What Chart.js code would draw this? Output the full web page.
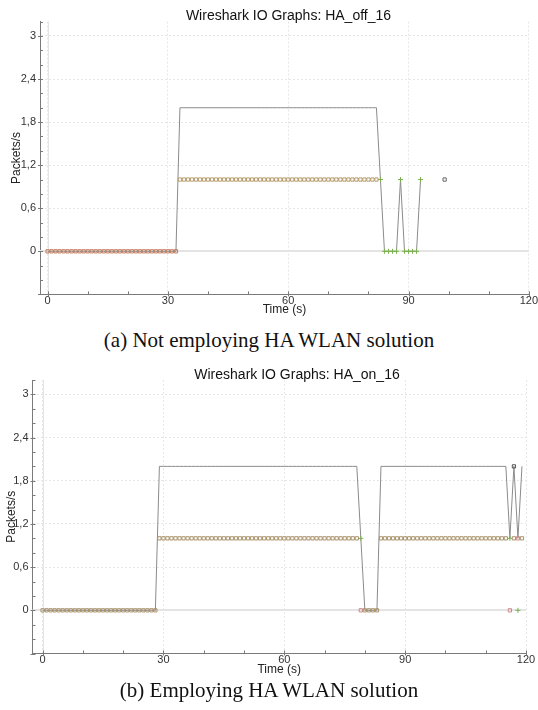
<!DOCTYPE html>
<html>
<head>
<meta charset="utf-8">
<script src="https://cdn.jsdelivr.net/npm/chart.js"></script>
<style>
  body { margin: 0; background: #fff; width: 538px; height: 710px; overflow: hidden; position: relative; }
  canvas { position: absolute; left: 0; }
  .title { position: absolute; left: 0; text-align: center; font: 14px/14px "Liberation Sans", Arial, sans-serif; color: #111; white-space: nowrap; }
  .caption { position: absolute; left: 0; width: 538px; text-align: center; font: 21px/24px "Liberation Serif", "Times New Roman", serif; color: #111; }
</style>
</head>
<body>
<canvas id="offChart" width="538" height="320" style="top:0"></canvas>
<canvas id="onChart" width="538" height="320" style="top:360px"></canvas>
<div class="title" style="top:8px;width:577px">Wireshark IO Graphs: HA_off_16</div>
<div class="caption" style="top:328px">(a) Not employing HA WLAN solution</div>
<div class="title" style="top:367px;width:594px">Wireshark IO Graphs: HA_on_16</div>
<div class="caption" style="top:678px">(b) Employing HA WLAN solution</div>
<script>
// ---- HA_off_16 : one value per second, starting at t = 0 ----
var offTotal = [
    0, 0, 0, 0, 0, 0, 0, 0, 0, 0,
    0, 0, 0, 0, 0, 0, 0, 0, 0, 0,
    0, 0, 0, 0, 0, 0, 0, 0, 0, 0,
    0, 0, 0, 2, 2, 2, 2, 2, 2, 2,
    2, 2, 2, 2, 2, 2, 2, 2, 2, 2,
    2, 2, 2, 2, 2, 2, 2, 2, 2, 2,
    2, 2, 2, 2, 2, 2, 2, 2, 2, 2,
    2, 2, 2, 2, 2, 2, 2, 2, 2, 2,
    2, 2, 2, 1, 0, 0, 0, 0, 1, 0,
    0, 0, 0, 1
];
var offSquares = [
    0, 0, 0, 0, 0, 0, 0, 0, 0, 0,
    0, 0, 0, 0, 0, 0, 0, 0, 0, 0,
    0, 0, 0, 0, 0, 0, 0, 0, 0, 0,
    0, 0, 0, 1, 1, 1, 1, 1, 1, 1,
    1, 1, 1, 1, 1, 1, 1, 1, 1, 1,
    1, 1, 1, 1, 1, 1, 1, 1, 1, 1,
    1, 1, 1, 1, 1, 1, 1, 1, 1, 1,
    1, 1, 1, 1, 1, 1, 1, 1, 1, 1,
    1, 1, 1
];
var offGreenT = [83, 84, 85, 86, 87, 88, 89, 90, 91, 92, 93];
var offGreenV = [1, 0, 0, 0, 0, 1, 0, 0, 0, 0, 1];
var offDarkT = [99];
var offDarkV = [1];

// ---- HA_on_16 ----
var onTotal = [
    0, 0, 0, 0, 0, 0, 0, 0, 0, 0,
    0, 0, 0, 0, 0, 0, 0, 0, 0, 0,
    0, 0, 0, 0, 0, 0, 0, 0, 0, 2,
    2, 2, 2, 2, 2, 2, 2, 2, 2, 2,
    2, 2, 2, 2, 2, 2, 2, 2, 2, 2,
    2, 2, 2, 2, 2, 2, 2, 2, 2, 2,
    2, 2, 2, 2, 2, 2, 2, 2, 2, 2,
    2, 2, 2, 2, 2, 2, 2, 2, 2, 1,
    0, 0, 0, 0, 2, 2, 2, 2, 2, 2,
    2, 2, 2, 2, 2, 2, 2, 2, 2, 2,
    2, 2, 2, 2, 2, 2, 2, 2, 2, 2,
    2, 2, 2, 2, 2, 2, 1, 2, 1, 2
];
var onSquares = [
    0, 0, 0, 0, 0, 0, 0, 0, 0, 0,
    0, 0, 0, 0, 0, 0, 0, 0, 0, 0,
    0, 0, 0, 0, 0, 0, 0, 0, 0, 1,
    1, 1, 1, 1, 1, 1, 1, 1, 1, 1,
    1, 1, 1, 1, 1, 1, 1, 1, 1, 1,
    1, 1, 1, 1, 1, 1, 1, 1, 1, 1,
    1, 1, 1, 1, 1, 1, 1, 1, 1, 1,
    1, 1, 1, 1, 1, 1, 1, 1, 1, null,
    0, 0, 0, 0, 1, 1, 1, 1, 1, 1,
    1, 1, 1, 1, 1, 1, 1, 1, 1, 1,
    1, 1, 1, 1, 1, 1, 1, 1, 1, 1,
    1, 1, 1, 1, 1, 1, null, 1, null, 1
];
var onRedT = [79, 116, 118];
var onRedV = [0, 0, 1];
var onGreenT = [79, 116, 118];
var onGreenV = [1, 1, 0];
var onDarkT = [117];
var onDarkV = [2];

var xTickStep = 10, xMajor = 30;
var yTickStep = 0.2, yMajor = 0.6;
var yMin = -0.6, yMax = 3.2, xMax = 120;

function points(start, values) {
    var out = [];
    values.forEach(function (v, i) {
        if (v !== null) out.push({ x: start + i, y: v });
    });
    return out;
}

function pairs(times, values) {
    return times.map(function (t, i) { return { x: t, y: values[i] }; });
}

function isMajor(v, step) {
    var r = v / step;
    return Math.abs(r - Math.round(r)) < 1e-6;
}

function commaLabel(v) {
    return String(Math.round(v * 10) / 10).replace('.', ',');
}

function squareSet(data, color) {
    return {
        data: data, showLine: false, pointStyle: 'rect', pointRadius: 2.3,
        pointBorderWidth: 1, pointBorderColor: color, pointBackgroundColor: 'rgba(255,255,255,0)'
    };
}

function crossSet(data, color) {
    return {
        data: data, showLine: false, pointStyle: 'cross', pointRadius: 2.5,
        pointBorderWidth: 1, pointBorderColor: color
    };
}

function lineSet(data) {
    return { data: data, showLine: true, borderColor: '#8b8b8b', borderWidth: 1, pointRadius: 0, tension: 0 };
}

// zero lines and the short inner tick marks of the wireshark plot
var wiresharkAxes = {
    id: 'wiresharkAxes',
    beforeDatasetsDraw: function (chart) {
        var ctx = chart.ctx, a = chart.chartArea, x = chart.scales.x, y = chart.scales.y;
        ctx.save();
        ctx.strokeStyle = '#e4e4e4';
        ctx.lineWidth = 2;
        var y0 = Math.round(y.getPixelForValue(0));
        ctx.beginPath(); ctx.moveTo(a.left, y0); ctx.lineTo(a.right, y0); ctx.stroke();
        ctx.lineWidth = 1;
        var x0 = Math.round(x.getPixelForValue(0)) + 0.5;
        ctx.beginPath(); ctx.moveTo(x0, a.top); ctx.lineTo(x0, a.bottom); ctx.stroke();
        ctx.restore();
    },
    afterDraw: function (chart) {
        var ctx = chart.ctx, a = chart.chartArea, x = chart.scales.x, y = chart.scales.y;
        ctx.save();
        ctx.strokeStyle = '#7a7a7a';
        ctx.lineWidth = 1;
        ctx.beginPath();
        x.ticks.forEach(function (t) {
            var px = Math.round(x.getPixelForValue(t.value)) + 0.5;
            var out = isMajor(t.value, xMajor) ? 2 : 0;
            ctx.moveTo(px, a.bottom + out); ctx.lineTo(px, a.bottom - 3);
        });
        y.ticks.forEach(function (t) {
            var py = Math.round(y.getPixelForValue(t.value)) + 0.5;
            var out = isMajor(t.value, yMajor) ? 2 : 0;
            ctx.moveTo(a.left - out, py); ctx.lineTo(a.left + 3, py);
        });
        ctx.stroke();
        ctx.restore();
    }
};

function drawIOGraph(canvasId, datasets, box) {
    var tickFont = { family: '"Liberation Sans Narrow", "Liberation Sans", Arial, sans-serif', size: 11 };
    var titleFont = { family: '"Liberation Sans", Arial, sans-serif', size: 12 };
    return new Chart(document.getElementById(canvasId), {
        type: 'scatter',
        data: { datasets: datasets },
        plugins: [wiresharkAxes],
        options: {
            responsive: false,
            animation: false,
            layout: { padding: { top: box.padTop, right: box.padRight, left: 0, bottom: 0 } },
            plugins: { legend: { display: false }, tooltip: { enabled: false } },
            scales: {
                x: {
                    type: 'linear', min: box.xMin, max: xMax,
                    afterFit: function (s) { s.height = box.xAxisHeight; },
                    ticks: {
                        stepSize: xTickStep, includeBounds: false, autoSkip: false, maxRotation: 0,
                        padding: 0, color: '#333', font: tickFont,
                        callback: function (v) { return isMajor(v, xMajor) ? String(v) : ''; }
                    },
                    grid: {
                        drawTicks: false,
                        color: function (c) { return c.tick && isMajor(c.tick.value, xMajor) ? '#e6e6e6' : 'rgba(0,0,0,0)'; }
                    },
                    border: { display: true, color: '#7a7a7a', width: 1, dash: [2, 2] },
                    title: { display: true, text: 'Time (s)', color: '#222', font: titleFont, padding: { top: 0, bottom: box.xTitlePad } }
                },
                y: {
                    type: 'linear', min: yMin, max: yMax,
                    afterFit: function (s) { s.width = box.yAxisWidth; },
                    ticks: {
                        stepSize: yTickStep, includeBounds: false, autoSkip: false,
                        padding: 4, color: '#333', font: tickFont,
                        callback: function (v) { return (v > -1e-6 && isMajor(v, yMajor)) ? commaLabel(v) : ''; }
                    },
                    grid: {
                        drawTicks: false,
                        color: function (c) { return c.tick && isMajor(c.tick.value, yMajor) ? '#e6e6e6' : 'rgba(0,0,0,0)'; }
                    },
                    border: { display: true, color: '#7a7a7a', width: 1, dash: [2, 2] },
                    title: { display: true, text: 'Packets/s', color: '#222', font: titleFont, padding: { top: box.yTitlePad, bottom: 0 } }
                }
            }
        }
    });
}

drawIOGraph('offChart', [
    squareSet(points(0, offSquares), function (c) { return c.raw && c.raw.y === 0 ? '#c27a5c' : '#b59b6b'; }),
    crossSet(pairs(offGreenT, offGreenV), '#7bb24f'),
    squareSet(pairs(offDarkT, offDarkV), '#666666'),
    lineSet(points(0, offTotal))
], { padTop: 21.6, padRight: 8.7, xAxisHeight: 25.6, yAxisWidth: 40, xMin: -1.9, yTitlePad: 9.5, xTitlePad: 3 });

drawIOGraph('onChart', [
    squareSet(points(0, onSquares), '#a9926a'),
    squareSet(pairs(onRedT, onRedV), '#d08585'),
    crossSet(pairs(onGreenT, onGreenV), '#7bb24f'),
    squareSet(pairs(onDarkT, onDarkV), '#555555'),
    lineSet(points(0, onTotal))
], { padTop: 20, padRight: 12, xAxisHeight: 26.5, yAxisWidth: 32.5, xMin: -2.5, yTitlePad: 4, xTitlePad: 3.5 });
</script>
</body>
</html>
